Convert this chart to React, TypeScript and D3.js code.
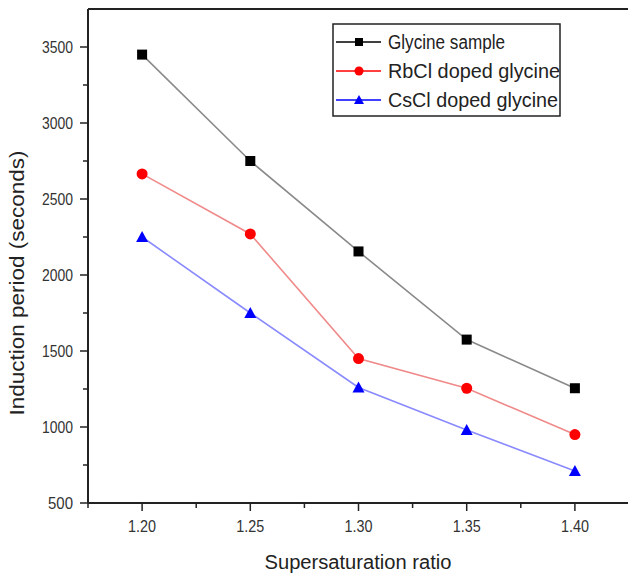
import React from 'react';
import * as d3 from 'd3';

const ratios = [1.2, 1.25, 1.3, 1.35, 1.4];
const glycine = [3450, 2750, 2155, 1575, 1255];
const rbcl = [2665, 2270, 1450, 1255, 950];
const cscl = [2250, 1750, 1260, 980, 710];
const seriesNames = ['Glycine sample', 'RbCl doped glycine', 'CsCl doped glycine'];
const yTicks = [500, 1000, 1500, 2000, 2500, 3000, 3500];
const xTicks = [1.2, 1.25, 1.3, 1.35, 1.4];

const width = 628, height = 578;
const left = 88, top = 9, bottom = 503, right = 629;

const App = () => {
    const x = d3.scaleLinear().domain([1.175, 1.425]).range([left, right]);
    const y = d3.scaleLinear().domain([500, 3500]).range([bottom, 47]);

    const series = [
        { name: seriesNames[0], values: glycine, line: '#8a8a8a', mark: '#000', legendLine: '#000', shape: 'square', tl: 117 },
        { name: seriesNames[1], values: rbcl, line: '#f08a8a', mark: '#ff0000', legendLine: '#ff0000', shape: 'circle', tl: 172 },
        { name: seriesNames[2], values: cscl, line: '#8a8aff', mark: '#0000ff', legendLine: '#0000ff', shape: 'triangle', tl: 170 },
    ];

    const lineGen = d3.line<number>()
        .x((d, i) => x(ratios[i]))
        .y(d => y(d));

    // s = half size of the marker
    const marker = (shape: string, cx: number, cy: number, color: string, key: string, s = 5) => {
        if (shape === 'square') return <rect key={key} x={cx - s} y={cy - s} width={2 * s} height={2 * s} fill={color} />;
        if (shape === 'circle') return <circle key={key} cx={cx} cy={cy} r={s + 0.5} fill={color} />;
        return <path key={key} d={`M${cx},${cy - s - 1}L${cx + s + 1},${cy + s}L${cx - s - 1},${cy + s}Z`} fill={color} />;
    };

    const minorY = d3.range(750, 3500, 500);
    const minorX = d3.range(1.175, 1.43, 0.05);

    return (
        <div style={{ position: 'absolute', left: 0, top: 0 }}>
            <svg width={width} height={height} style={{ display: 'block', background: '#fff' }}
                fontFamily="'Liberation Sans', Arial, sans-serif">
                {/* frame */}
                <line x1={left} y1={top} x2={right} y2={top} stroke="#222" strokeWidth={2} />
                <line x1={left} y1={top} x2={left} y2={bottom} stroke="#222" strokeWidth={2} />
                <line x1={left} y1={bottom} x2={right} y2={bottom} stroke="#222" strokeWidth={2} />

                {/* y axis */}
                {yTicks.map(t => (
                    <g key={'y' + t}>
                        <line x1={left - 8} x2={left} y1={y(t)} y2={y(t)} stroke="#222" strokeWidth={1.5} />
                        <text x={left - 15} y={y(t)} dy="0.35em" textAnchor="end" fontSize={17} fill="#333"
                            textLength={String(t).length === 4 ? 31 : 25} lengthAdjust="spacingAndGlyphs">{t}</text>
                    </g>
                ))}
                {minorY.map(t => (
                    <line key={'my' + t} x1={left - 5} x2={left} y1={y(t)} y2={y(t)} stroke="#222" strokeWidth={1.5} />
                ))}

                {/* x axis */}
                {xTicks.map(t => (
                    <g key={'x' + t}>
                        <line x1={x(t)} x2={x(t)} y1={bottom} y2={bottom + 8} stroke="#222" strokeWidth={1.5} />
                        <text x={x(t)} y={bottom + 29} textAnchor="middle" fontSize={17} fill="#333"
                            textLength={28} lengthAdjust="spacingAndGlyphs">{t.toFixed(2)}</text>
                    </g>
                ))}
                {minorX.map(t => (
                    <line key={'mx' + t} x1={x(t)} x2={x(t)} y1={bottom} y2={bottom + 5} stroke="#222" strokeWidth={1.5} />
                ))}

                <text transform={`translate(24,283) rotate(-90)`} textAnchor="middle" fontSize={20} fill="#222"
                    textLength={265} lengthAdjust="spacingAndGlyphs">Induction period (seconds)</text>
                <text x={358} y={569} textAnchor="middle" fontSize={20} fill="#222"
                    textLength={187} lengthAdjust="spacingAndGlyphs">Supersaturation ratio</text>

                {/* series */}
                {series.map(s => (
                    <g key={s.name}>
                        <path d={lineGen(s.values) || ''} fill="none" stroke={s.line} strokeWidth={1.6} />
                        {s.values.map((v, i) => marker(s.shape, x(ratios[i]), y(v), s.mark, s.name + i))}
                    </g>
                ))}

                {/* legend */}
                <rect x={333} y={24} width={227} height={92} fill="#fff" stroke="#222" strokeWidth={1.5} />
                {series.map((s, i) => {
                    const ly = 42 + i * 29;
                    return (
                        <g key={'lg' + s.name}>
                            <line x1={336} x2={381} y1={ly} y2={ly} stroke={s.legendLine} strokeWidth={1.5} />
                            {marker(s.shape, 359, ly, s.mark, 'lm' + i, 4)}
                            <text x={388} y={ly} dy="0.36em" fontSize={20} fill="#222"
                                textLength={s.tl} lengthAdjust="spacingAndGlyphs">{s.name}</text>
                        </g>
                    );
                })}
            </svg>
        </div>
    );
};

export default App;
